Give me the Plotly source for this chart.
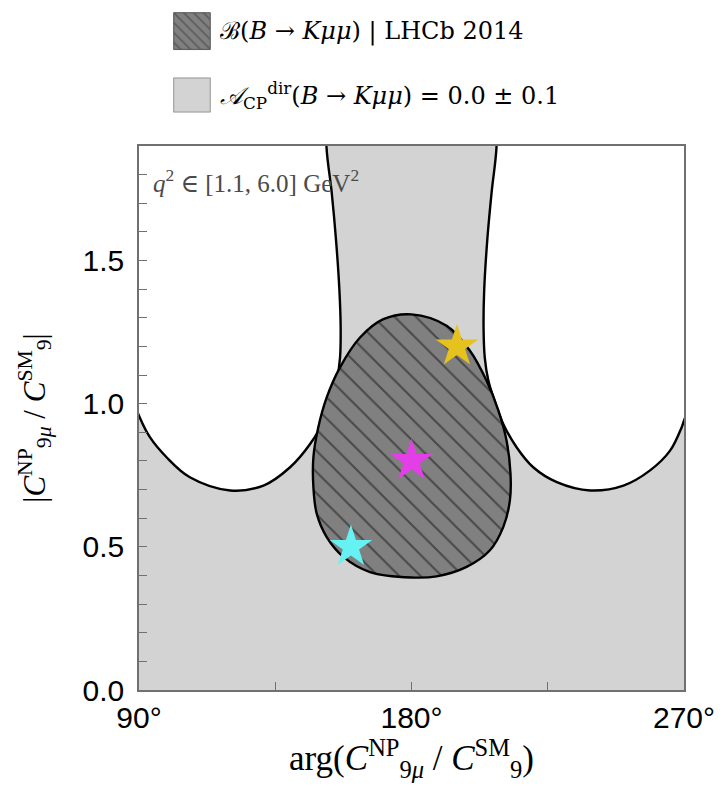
import plotly.graph_objects as go

# ---------------- data ----------------
X_MIN, X_MAX = 90, 270
Y_MIN, Y_MAX = 0.0, 1.9

x_tick_vals = [90, 180, 270]
x_tick_text = ["90°", "180°", "270°"]
y_tick_vals = [0.0, 0.5, 1.0, 1.5]
y_tick_text = ["0.0", "0.5", "1.0", "1.5"]

# boundary of the left region excluded by A_CP^dir (white)
left_arg = [151.9, 153.6, 155.1, 156.2, 156.6, 156.4, 155.3, 153.6, 151.5, 146.5,
            139.9, 131.1, 120.1, 106.8, 99.1, 93.6, 90.0]
left_mod = [1.90, 1.742, 1.568, 1.394, 1.266, 1.161, 1.080, 1.020, 0.950, 0.859,
            0.778, 0.714, 0.697, 0.743, 0.813, 0.883, 0.958]

# boundary of the right region excluded by A_CP^dir (white)
right_arg = [208.1, 206.5, 205.0, 204.0, 203.8, 204.2, 205.4, 207.6, 210.3, 214.7,
             220.2, 228.0, 239.0, 250.0, 258.8, 265.4, 269.2, 270.0]
right_mod = [1.90, 1.742, 1.568, 1.394, 1.266, 1.161, 1.080, 1.005, 0.929, 0.848,
             0.778, 0.726, 0.697, 0.714, 0.767, 0.836, 0.917, 0.941]

# LHCb 2014 branching-ratio allowed region (hatched), closed contour
lhcb_arg = [180.0, 191.6, 199.3, 204.8, 208.7, 211.4, 212.7, 212.5, 210.3, 205.9,
            198.2, 188.3, 180.0, 166.3, 157.5, 152.0, 148.7, 147.6, 147.6, 149.2,
            152.0, 156.4, 163.0, 170.7, 180.0]
lhcb_mod = [1.312, 1.272, 1.185, 1.080, 0.976, 0.871, 0.755, 0.662, 0.569, 0.488,
            0.430, 0.397, 0.393, 0.412, 0.465, 0.534, 0.616, 0.708, 0.813, 0.917,
            1.022, 1.127, 1.231, 1.295, 1.312]

# benchmark points (stars)
star_arg = [195.0, 180.0, 160.0]
star_mod = [1.20, 0.80, 0.50]
star_colors = ["#e6c21e", "#e43fe6", "#66f2f2"]

legend_names = [
    "ℬ(<i>B</i> → <i>Kμμ</i>) | LHCb 2014",
    "<i>𝒜</i><sub>CP</sub><sup>dir</sup>(<i>B</i> → <i>Kμμ</i>) = 0.0 ± 0.1",
]
region_note = "<i>q</i><sup>2</sup> ∈ [1.1, 6.0] GeV<sup>2</sup>"
x_title = "arg(<i>C</i><sup>NP</sup><sub>9<i>μ</i></sub> / <i>C</i><sup>SM</sup><sub>9</sub>)"
y_title = "|<i>C</i><sup>NP</sup><sub>9<i>μ</i></sub> / <i>C</i><sup>SM</sup><sub>9</sub>|"

# ---------------- styling ----------------
LIGHT = "#d3d3d3"
DARK = "#808080"
SERIF = "Liberation Serif, DejaVu Serif, serif"
WIDE_SERIF = "DejaVu Serif, Liberation Serif, serif"
SANS = "Liberation Sans, Arial, sans-serif"
PAD = 0.3  # how far closing corners are pushed outside the visible range

fig = go.Figure()

# white (excluded) regions, closed outside the visible window
fig.add_trace(go.Scatter(
    x=[left_arg[0]] + left_arg + [X_MIN - 10, X_MIN - 10],
    y=[Y_MAX + PAD] + left_mod + [left_mod[-1] + PAD, Y_MAX + PAD],
    mode="lines", line=dict(color="black", width=2.4, shape="spline"),
    fill="toself", fillcolor="white", hoverinfo="skip", showlegend=False))
fig.add_trace(go.Scatter(
    x=[right_arg[0]] + right_arg + [X_MAX + 10, X_MAX + 10],
    y=[Y_MAX + PAD] + right_mod + [right_mod[-1] + PAD, Y_MAX + PAD],
    mode="lines", line=dict(color="black", width=2.4, shape="spline"),
    fill="toself", fillcolor="white", hoverinfo="skip", showlegend=False))

# hatched LHCb region
fig.add_trace(go.Scatter(
    x=lhcb_arg, y=lhcb_mod, mode="lines",
    line=dict(color="black", width=2.4, shape="spline"),
    fill="toself", fillcolor=DARK,
    fillpattern=dict(shape="\\", fgcolor="#111111", bgcolor=DARK, size=15, solidity=0.14),
    hoverinfo="skip", showlegend=False))

# stars
fig.add_trace(go.Scatter(
    x=star_arg, y=star_mod, mode="markers",
    marker=dict(symbol="star", size=32, color=star_colors, line=dict(width=0)),
    showlegend=False))

# ---------------- custom legend boxes (small helper axes) ----------------
fig.add_trace(go.Scatter(
    x=[0, 1, 1, 0, 0], y=[0, 0, 1, 1, 0], xaxis="x2", yaxis="y2", mode="lines",
    line=dict(color="#555555", width=1), fill="toself", fillcolor=DARK,
    fillpattern=dict(shape="\\", fgcolor="#3a3a3a", bgcolor=DARK, size=7, solidity=0.25),
    hoverinfo="skip", showlegend=False))
fig.add_trace(go.Scatter(
    x=[0, 1, 1, 0, 0], y=[0, 0, 1, 1, 0], xaxis="x3", yaxis="y3", mode="lines",
    line=dict(color="#9a9a9a", width=1), fill="toself", fillcolor=LIGHT,
    hoverinfo="skip", showlegend=False))

hidden = dict(range=[-0.02, 1.02], visible=False, fixedrange=True)
box_x = [0.0624, 0.132]

axis_common = dict(
    showline=True, mirror=True, linecolor="#707070", linewidth=1.5,
    showgrid=False, zeroline=False, ticks="inside", ticklen=8,
    tickcolor="#707070", tickwidth=1.2, automargin=False,
    tickfont=dict(family=SANS, size=30, color="black"),
)

fig.update_layout(
    width=723, height=801,
    margin=dict(l=131, r=47, t=2, b=119),
    paper_bgcolor="white", plot_bgcolor=LIGHT,
    xaxis=dict(domain=[0, 1], range=[X_MIN, X_MAX], tickmode="array",
               tickvals=x_tick_vals, ticktext=x_tick_text,
               minor=dict(ticks="inside", ticklen=8, tickcolor="#707070", dtick=45, tick0=90),
               title=dict(text=x_title, font=dict(family=SERIF, size=35, color="black"), standoff=11),
               **axis_common),
    yaxis=dict(domain=[0, 0.8], range=[Y_MIN, Y_MAX], tickmode="array",
               tickvals=y_tick_vals, ticktext=y_tick_text, ticklabelstandoff=7,
               minor=dict(ticks="inside", ticklen=8, tickcolor="#707070", dtick=0.1, tick0=0),
               title=dict(text=y_title, font=dict(family=SERIF, size=31, color="black"), standoff=28),
               **axis_common),
    xaxis2=dict(domain=box_x, anchor="y2", **hidden),
    yaxis2=dict(domain=[0.941, 0.997], anchor="x2", **hidden),
    xaxis3=dict(domain=box_x, anchor="y3", **hidden),
    yaxis3=dict(domain=[0.849, 0.901], anchor="x3", **hidden),
    annotations=[
        dict(text=legend_names[0], xref="paper", yref="paper", x=0.145, y=0.969,
             xanchor="left", yanchor="middle", showarrow=False,
             font=dict(family=WIDE_SERIF, size=24, color="black")),
        dict(text=legend_names[1], xref="paper", yref="paper", x=0.145, y=0.875,
             xanchor="left", yanchor="middle", showarrow=False,
             font=dict(family=WIDE_SERIF, size=24, color="black")),
        dict(text=region_note, xref="x domain", yref="y domain", x=0.022, y=0.935,
             xanchor="left", yanchor="middle", showarrow=False,
             font=dict(family=SERIF, size=25, color="#4a4a4a")),
    ],
)

fig.write_html("out.html")
